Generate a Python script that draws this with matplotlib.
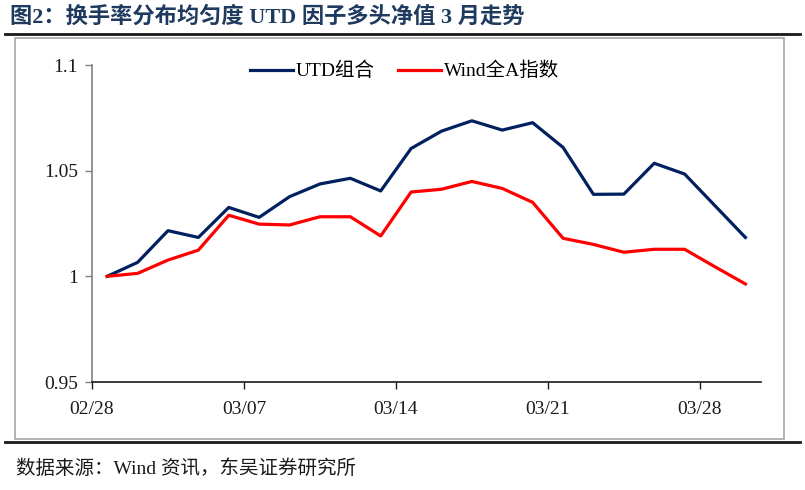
import matplotlib.pyplot as plt
from matplotlib.lines import Line2D
from matplotlib.patches import Rectangle

# net value series, one point per trading day (02/28 .. 03/29)
utd = [1.0000, 1.0066, 1.0216, 1.0184, 1.0326, 1.0279, 1.0377, 1.0437,
       1.0464, 1.0404, 1.0605, 1.0687, 1.0736, 1.0692, 1.0727, 1.0610,
       1.0388, 1.0389, 1.0535, 1.0484, 1.0334, 1.0184]
wind_a = [1.0000, 1.0014, 1.0077, 1.0124, 1.0289, 1.0247, 1.0243, 1.0282,
          1.0282, 1.0191, 1.0399, 1.0412, 1.0449, 1.0416, 1.0350, 1.0180,
          1.0151, 1.0114, 1.0128, 1.0128, 1.0045, 0.9964]
x_labels = ["02/28", "03/07", "03/14", "03/21", "03/28"]
x_label_pos = [-0.5, 4.5, 9.5, 14.5, 19.5]
y_ticks = [0.95, 1.0, 1.05, 1.1]
y_labels = ["0.95", "1", "1.05", "1.1"]

fonts = ["Liberation Serif", "Noto Sans CJK SC", "DejaVu Sans"]
plt.rcParams["font.family"] = fonts

W, H = 805, 490
fig = plt.figure(figsize=(W / 100, H / 100), dpi=100)

# frame around chart and rules above/below
fig.add_artist(Rectangle((15 / W, 1 - 439 / H), (784 - 15) / W, (439 - 38) / H,
                         transform=fig.transFigure, fill=False,
                         edgecolor="#a6a6a6", linewidth=1.2))
fig.add_artist(Line2D([5 / W, 800 / W], [1 - 34.5 / H] * 2,
                      transform=fig.transFigure, color="#1a1a1a", linewidth=2))
fig.add_artist(Line2D([5 / W, 800 / W], [1 - 442 / H] * 2,
                      transform=fig.transFigure, color="#1a1a1a", linewidth=2))

fig.text(10 / W, 1 - 17 / H, "图2：换手率分布均匀度 UTD 因子多头净值 3 月走势",
         fontsize=16, fontweight="bold", color="#1f3a5f", va="center", ha="left")
fig.text(16 / W, 1 - 469 / H, "数据来源：Wind 资讯，东吴证券研究所",
         fontsize=14, color="#1a1a1a", va="center", ha="left")

ax = fig.add_axes([92 / W, 1 - 382 / H, (760.6 - 92) / W, (382 - 65) / H])
x = list(range(len(utd)))
ax.plot(x, utd, color="#002060", linewidth=2.3, label="UTD组合")
ax.plot(x, wind_a, color="#ff0000", linewidth=2.3, label="Wind全A指数")

ax.set_xlim(-0.5, len(utd) - 0.5)
ax.set_ylim(0.95, 1.1)
ax.set_xticks(x_label_pos)
ax.set_xticklabels(x_labels)
ax.set_yticks(y_ticks)
ax.set_yticklabels(y_labels)

for side in ["top", "right"]:
    ax.spines[side].set_visible(False)
ax.spines["left"].set_color("#808080")
ax.spines["left"].set_linewidth(1.2)
ax.spines["bottom"].set_color("#1a1a1a")
ax.spines["bottom"].set_linewidth(1.2)
ax.tick_params(axis="y", length=5, width=1, color="#808080", pad=5,
               labelsize=14, labelcolor="#1a1a1a")
ax.tick_params(axis="x", length=5, width=1, color="#1a1a1a", pad=9,
               labelsize=14, labelcolor="#1a1a1a")

ax.legend(loc="upper center", bbox_to_anchor=(0.468, 1.065), ncol=2, frameon=False,
          fontsize=14, handlelength=2.2, handletextpad=0.15, columnspacing=1.2)

fig.savefig("out.png", dpi=100)
